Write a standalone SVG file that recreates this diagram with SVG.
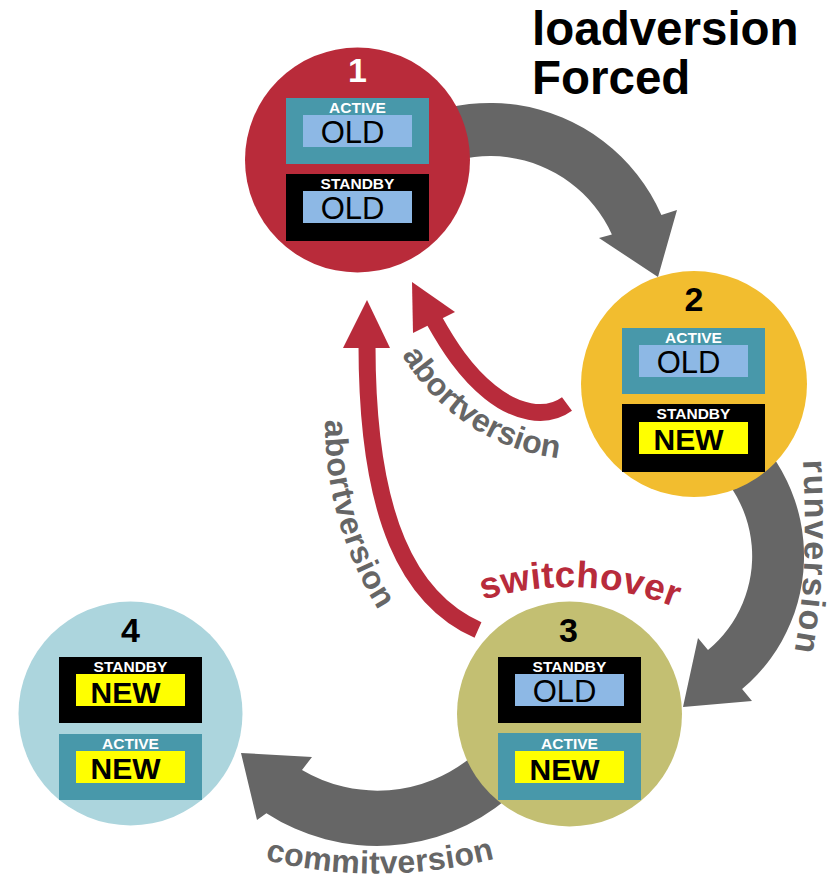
<svg xmlns="http://www.w3.org/2000/svg" width="839" height="879" viewBox="0 0 839 879">
<style>
text{font-family:"Liberation Sans",Arial,sans-serif;font-weight:bold}
.num{font-size:34px;text-anchor:middle}
.lbl{font-size:15.5px;fill:#fff;text-anchor:middle}
.val{font-size:30px;fill:#000;text-anchor:middle}
.old{font-weight:normal;font-size:31px}
.act{fill:#4898aa}
.stb{fill:#000}
.blue{fill:#8db8e5}
.yel{fill:#ffff00}
.gray{fill:#666}
.red{fill:none;stroke:#b82b3b;stroke-width:17}
.redh{fill:#b82b3b}
.cap{font-size:32px;fill:#666}
.run{font-size:34px;fill:#666}
.sw{font-size:37px;fill:#b82b3b}
.title{font-size:47.5px;fill:#000}
</style>
<defs>
<path id="pAbort1" d="M 402,355 A 212 212 0 0 0 557,458"/>
<path id="pAbort2" d="M 325,420 A 351 351 0 0 0 383,617"/>
<path id="pRun" d="M 803,460 C 807,540 805,600 792,664"/>
<path id="pSwitch" d="M 483,600 A 290 290 0 0 1 677,608"/>
<path id="pCommit" d="M 265,860 A 475 475 0 0 0 498,858"/>
</defs>

<g id="connectors">
<path id="e-load" class="gray" d="M 346.7,169.8 A 187 187 0 0 1 661.4,215.1 L 677,210 L 658,277 L 599,238 L 611.9,234.4 A 134 134 0 0 0 387.4,203.9 Z"/>
<path id="e-run" class="gray" d="M 717,405.3 A 174 174 0 0 1 742.1,689.1 L 752,701 L 683,707 L 698,638 L 708,650 A 122 122 0 0 0 691,450.3 Z"/>
<path id="e-commit" class="gray" d="M 507.5,798.5 A 203 203 0 0 1 266.4,813.2 L 257,820 L 241,753 L 312,757 L 302,770 A 148 148 0 0 0 472.1,756.4 Z"/>
<g id="e-abort1">
<path class="red" d="M 567,404 C 545,420 515,412 490,392 C 465,372 448,345 434,320"/>
<polygon class="redh" points="412,282 413,333 455,312"/>
</g>
<g id="e-abort2">
<path class="red" d="M 478,630 C 410,600 367,520 367,345"/>
<polygon class="redh" points="367,300 343,348 390,348"/>
</g>
<text class="cap"><textPath href="#pAbort1" textLength="194" lengthAdjust="spacing">abortversion</textPath></text>
<text class="cap"><textPath href="#pAbort2" textLength="200" lengthAdjust="spacing">abortversion</textPath></text>
<text class="run"><textPath href="#pRun" textLength="192" lengthAdjust="spacing">runversion</textPath></text>
<text class="sw"><textPath href="#pSwitch" textLength="196" lengthAdjust="spacing">switchover</textPath></text>
<text class="cap"><textPath href="#pCommit" textLength="232" lengthAdjust="spacing">commitversion</textPath></text>
</g>

<g id="node1">
<circle cx="357.5" cy="160" r="112.5" fill="#b92b3a"/>
<text class="num" x="357.5" y="82" fill="#fff">1</text>
<rect class="act" x="286" y="98" width="143" height="66"/>
<text class="lbl" x="357.5" y="113">ACTIVE</text>
<rect class="blue" x="303" y="115" width="109" height="32"/>
<text class="val old" x="352.5" y="143">OLD</text>
<rect class="stb" x="286" y="174" width="143" height="67"/>
<text class="lbl" x="357.5" y="189">STANDBY</text>
<rect class="blue" x="303" y="191" width="109" height="32"/>
<text class="val old" x="352.5" y="219">OLD</text>
</g>

<g id="node2">
<circle cx="694" cy="384" r="113" fill="#f2bd2f"/>
<text class="num" x="694" y="311" fill="#000">2</text>
<rect class="act" x="622" y="328" width="143" height="66"/>
<text class="lbl" x="693.5" y="343">ACTIVE</text>
<rect class="blue" x="639" y="345" width="109" height="32"/>
<text class="val old" x="688.5" y="373">OLD</text>
<rect class="stb" x="622" y="404" width="143" height="68"/>
<text class="lbl" x="693.5" y="419">STANDBY</text>
<rect class="yel" x="639" y="422" width="109" height="32"/>
<text class="val" x="688.5" y="450">NEW</text>
</g>

<g id="node3">
<circle cx="569.5" cy="714" r="112.5" fill="#c3bf72"/>
<text class="num" x="568.5" y="642" fill="#000">3</text>
<rect class="stb" x="498" y="657" width="143" height="66"/>
<text class="lbl" x="569.5" y="672">STANDBY</text>
<rect class="blue" x="515" y="674" width="109" height="32"/>
<text class="val old" x="564.5" y="702">OLD</text>
<rect class="act" x="498" y="733" width="143" height="67"/>
<text class="lbl" x="569.5" y="749">ACTIVE</text>
<rect class="yel" x="515" y="751" width="109" height="32"/>
<text class="val" x="564.5" y="780">NEW</text>
</g>

<g id="node4">
<circle cx="130.5" cy="713.5" r="112" fill="#acd5dd"/>
<text class="num" x="130.5" y="642" fill="#000">4</text>
<rect class="stb" x="59" y="657" width="143" height="66"/>
<text class="lbl" x="130.5" y="672">STANDBY</text>
<rect class="yel" x="76" y="674" width="109" height="32"/>
<text class="val" x="125.5" y="703">NEW</text>
<rect class="act" x="59" y="734" width="143" height="66"/>
<text class="lbl" x="130.5" y="749">ACTIVE</text>
<rect class="yel" x="76" y="751" width="109" height="32"/>
<text class="val" x="125.5" y="779">NEW</text>
</g>

<g id="title">
<text class="title" x="532" y="45">loadversion</text>
<text class="title" x="532" y="94">Forced</text>
</g>
</svg>
